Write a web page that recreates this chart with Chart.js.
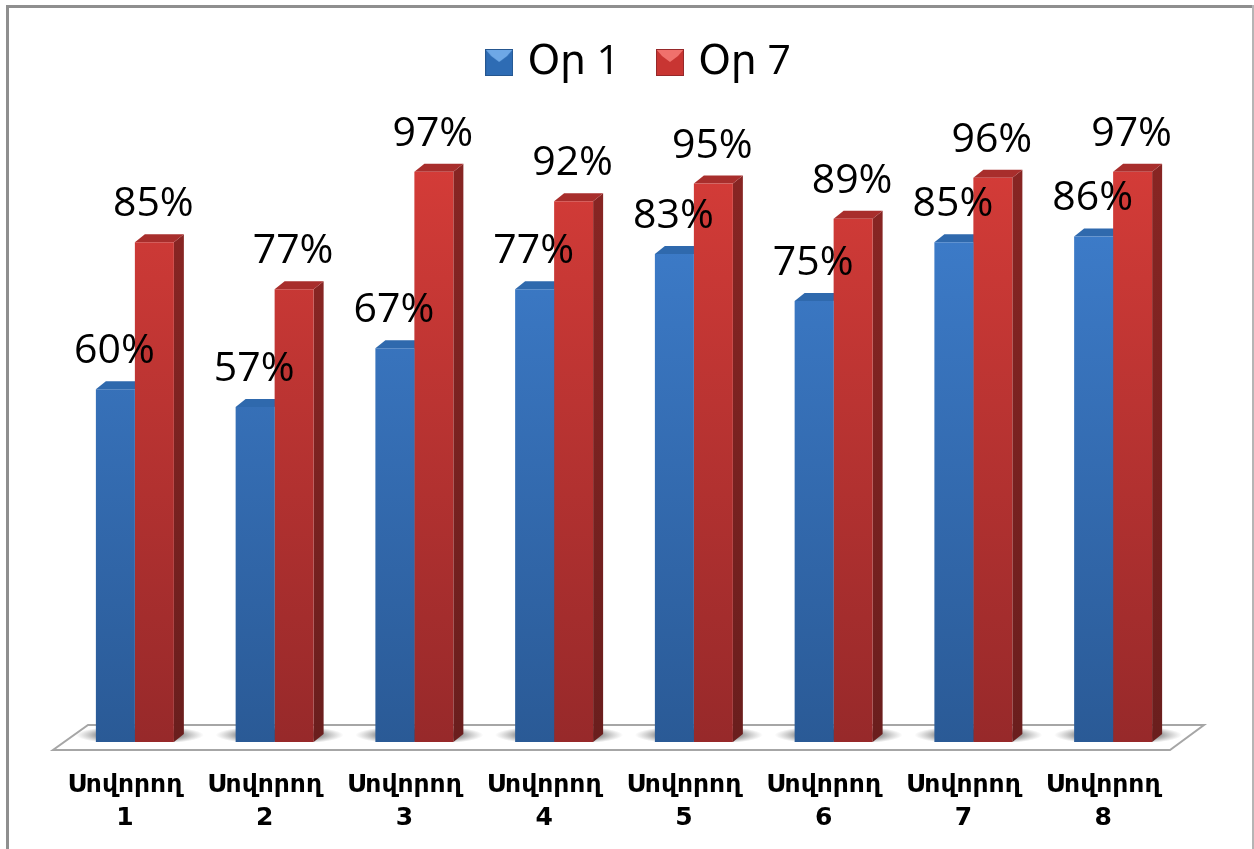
<!DOCTYPE html>
<html>
<head>
<meta charset="utf-8">
<title>Chart</title>
<script src="https://cdn.jsdelivr.net/npm/chart.js@4"></script>
<style>
  html, body { margin: 0; padding: 0; background: #fff; overflow: hidden; }
  canvas { display: block; }
</style>
</head>
<body>
<canvas id="myChart" width="1254" height="849"></canvas>
<script>
var categories = [
    ['Սովորող', '1'], ['Սովորող', '2'], ['Սովորող', '3'], ['Սովորող', '4'],
    ['Սովորող', '5'], ['Սովորող', '6'], ['Սովորող', '7'], ['Սովորող', '8']
];
var seriesNames = ['Օր 1', 'Օր 7'];
var day1 = [60, 57, 67, 77, 83, 75, 85, 86];
var day7 = [85, 77, 97, 92, 95, 89, 96, 97];

var fontStack = '"Open Sans", "DejaVu Sans", sans-serif';
var depthX = 10, depthY = 8;

// small bevelled square used as the legend marker
function makeMarker(main, light, dark) {
    var c = document.createElement('canvas');
    c.width = 28; c.height = 27;
    var g = c.getContext('2d');
    g.fillStyle = main;
    g.fillRect(0, 0, 28, 27);
    g.fillStyle = light;
    g.beginPath();
    g.moveTo(0, 0); g.lineTo(28, 0); g.lineTo(22, 7); g.lineTo(14, 13); g.lineTo(6, 7);
    g.closePath();
    g.fill();
    g.strokeStyle = dark;
    g.strokeRect(0.5, 0.5, 27, 26);
    return c;
}

function frontGradient(context, top, bottom) {
    var area = context.chart.chartArea;
    if (!area) return top;
    var y = context.chart.scales.y;
    var grad = context.chart.ctx.createLinearGradient(0, y.getPixelForValue(100), 0, y.getPixelForValue(0));
    grad.addColorStop(0, top);
    grad.addColorStop(1, bottom);
    return grad;
}

// floor, soft shadows, then the side and top faces; the bar fronts get drawn over these
var floorPlugin = {
    id: 'floor',
    beforeDatasetsDraw: function (chart) {
        var c = chart.ctx, x = chart.scales.x, base = chart.scales.y.getPixelForValue(0);
        var left = chart.chartArea.left, right = chart.chartArea.right;
        c.save();
        c.beginPath();
        c.moveTo(left - 12, base + 8);
        c.lineTo(right - 13, base + 8);
        c.lineTo(right + 21, base - 17);
        c.lineTo(left + 23, base - 17);
        c.closePath();
        c.fillStyle = '#ffffff';
        c.fill();
        c.lineWidth = 2;
        c.strokeStyle = '#a6a6a6';
        c.stroke();
        categories.forEach(function (cat, i) {
            var cx = x.getPixelForValue(i) + 5;
            c.save();
            c.beginPath();
            c.rect(cx - 80, base - 16, 160, 16);
            c.clip();
            c.translate(cx, base - 7);
            c.scale(1, 0.15);
            var r = c.createRadialGradient(0, 0, 30, 0, 0, 64);
            r.addColorStop(0, 'rgba(60,60,60,0.9)');
            r.addColorStop(1, 'rgba(120,120,120,0)');
            c.fillStyle = r;
            c.beginPath();
            c.arc(0, 0, 64, 0, Math.PI * 2);
            c.fill();
            c.restore();
        });
        chart.data.datasets.forEach(function (ds, i) {
            chart.getDatasetMeta(i).data.forEach(function (bar) {
                var p = bar.getProps(['x', 'y', 'width'], true);
                var l = p.x - p.width / 2, r = p.x + p.width / 2;
                var side = c.createLinearGradient(0, p.y, 0, base);
                side.addColorStop(0, ds.sideTop);
                side.addColorStop(1, ds.sideBottom);
                c.fillStyle = side;
                c.beginPath();
                c.moveTo(r, p.y);
                c.lineTo(r + depthX, p.y - depthY);
                c.lineTo(r + depthX, base - depthY);
                c.lineTo(r, base);
                c.closePath();
                c.fill();
                c.fillStyle = ds.topFace;
                c.beginPath();
                c.moveTo(l, p.y);
                c.lineTo(l + depthX, p.y - depthY);
                c.lineTo(r + depthX, p.y - depthY);
                c.lineTo(r, p.y);
                c.closePath();
                c.fill();
            });
        });
        c.restore();
    }
};

var valueLabelPlugin = {
    id: 'valueLabels',
    afterDraw: function (chart) {
        var c = chart.ctx;
        c.save();
        c.font = '41px ' + fontStack;
        c.fillStyle = '#000';
        c.textAlign = 'center';
        c.textBaseline = 'alphabetic';
        chart.data.datasets.forEach(function (ds, i) {
            chart.getDatasetMeta(i).data.forEach(function (bar, j) {
                c.fillText(ds.data[j] + '%', bar.x - 1, bar.y - 26);
            });
        });
        c.restore();
    }
};

var framePlugin = {
    id: 'frame',
    afterLayout: function (chart) {
        // the legend sits a little right of the plot centre in the reference
        chart.legend.left += 17;
        chart.legend.right += 17;
    },
    beforeDraw: function (chart) {
        var c = chart.ctx;
        c.save();
        c.fillStyle = '#8f8f8f';
        c.fillRect(6, 5, 1248, 3);
        c.fillRect(6, 5, 3, 844);
        c.fillStyle = '#b5b5b5';
        c.fillRect(1252, 5, 2, 844);
        c.restore();
    }
};

var ctx = document.getElementById('myChart').getContext('2d');
var myChart = new Chart(ctx, {
    type: 'bar',
    data: {
        labels: categories,
        datasets: [{
            label: seriesNames[0],
            data: day1,
            backgroundColor: function (context) { return frontGradient(context, '#3f80d0', '#2a5a96'); },
            sideTop: '#24527f',
            sideBottom: '#1c3f66',
            topFace: '#2f69ad',
            pointStyle: makeMarker('#2e6cb4', '#6ea8e6', '#25568f')
        }, {
            label: seriesNames[1],
            data: day7,
            backgroundColor: function (context) { return frontGradient(context, '#d53c38', '#97292a'); },
            sideTop: '#872523',
            sideBottom: '#6a1e1d',
            topFace: '#a82e2c',
            pointStyle: makeMarker('#c83532', '#f0716c', '#96282a')
        }]
    },
    options: {
        responsive: false,
        animation: false,
        layout: { padding: { left: 65, right: 71, top: 0, bottom: 22 } },
        datasets: { bar: { barPercentage: 1, categoryPercentage: 0.558 } },
        plugins: {
            tooltip: { enabled: false },
            legend: {
                position: 'top',
                labels: {
                    usePointStyle: true,
                    boxWidth: 16,
                    padding: 42,
                    color: '#000',
                    font: { family: fontStack, size: 41 }
                }
            }
        },
        scales: {
            x: {
                afterFit: function (scale) { scale.height = 85; },
                grid: { display: false },
                border: { display: false },
                ticks: {
                    color: '#000',
                    autoSkip: false,
                    maxRotation: 0,
                    labelOffset: -10,
                    padding: 19,
                    font: { family: '"DejaVu Sans", sans-serif', size: 25, weight: 'bold', lineHeight: 1.32 }
                }
            },
            y: { display: false, min: 0, max: 110.4 }
        }
    },
    plugins: [framePlugin, floorPlugin, valueLabelPlugin]
});
</script>
</body>
</html>
